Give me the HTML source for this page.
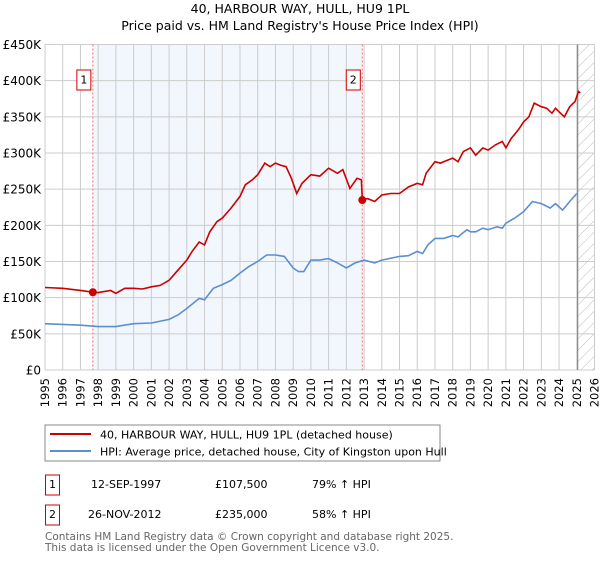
<!DOCTYPE html>
<html><head><meta charset="utf-8"><style>
body{margin:0;background:#fff;font-family:"DejaVu Sans","Liberation Sans",sans-serif;}
svg text{font-family:"DejaVu Sans","Liberation Sans",sans-serif;}
</style></head><body>
<svg width="600" height="560" xmlns="http://www.w3.org/2000/svg">
<defs>
<pattern id="hatch" width="8" height="8" patternUnits="userSpaceOnUse" patternTransform="rotate(45)">
<line x1="0" y1="0" x2="0" y2="8" stroke="#bbb" stroke-width="1"/></pattern>
</defs>
<text x="300" y="13" text-anchor="middle" font-size="12.5">40, HARBOUR WAY, HULL, HU9 1PL</text>
<text x="300" y="30" text-anchor="middle" font-size="12.5">Price paid vs. HM Land Registry's House Price Index (HPI)</text>
<g id="plot"></g>
<rect x="45" y="425" width="395" height="36" fill="#fff" stroke="#888"/>
<line x1="50" y1="434" x2="91" y2="434" stroke="#cc0000" stroke-width="2"/>
<text x="100" y="438.5" font-size="11">40, HARBOUR WAY, HULL, HU9 1PL (detached house)</text>
<line x1="50" y1="451" x2="91" y2="451" stroke="#5b8fd0" stroke-width="2"/>
<text x="100" y="455.5" font-size="11">HPI: Average price, detached house, City of Kingston upon Hull</text>
<rect x="45.5" y="475" width="14" height="20" fill="#fff" stroke="#cc0000"/>
<text x="52.5" y="488" text-anchor="middle" font-size="11">1</text>
<text x="91" y="488" font-size="11">12-SEP-1997</text>
<text x="215" y="488" font-size="11">£107,500</text>
<text x="312" y="488" font-size="11">79% ↑ HPI</text>
<rect x="45.5" y="505" width="14" height="20" fill="#fff" stroke="#cc0000"/>
<text x="52.5" y="518" text-anchor="middle" font-size="11">2</text>
<text x="88" y="518" font-size="11">26-NOV-2012</text>
<text x="215" y="518" font-size="11">£235,000</text>
<text x="312" y="518" font-size="11">58% ↑ HPI</text>
<text x="45" y="540" font-size="10.5" fill="#666">Contains HM Land Registry data © Crown copyright and database right 2025.</text>
<text x="45" y="551" font-size="10.5" fill="#666">This data is licensed under the Open Government Licence v3.0.</text>
</svg>
<script>
const yTicks=[0,50,100,150,200,250,300,350,400,450];
const yTickLabels=["£0","£50K","£100K","£150K","£200K","£250K","£300K","£350K","£400K","£450K"];
const xYears=[1995,1996,1997,1998,1999,2000,2001,2002,2003,2004,2005,2006,2007,2008,2009,2010,2011,2012,2013,2014,2015,2016,2017,2018,2019,2020,2021,2022,2023,2024,2025,2026];
const propYears=[1995,1996,1997,1997.7,1998,1998.7,1999,1999.5,2000,2000.5,2001,2001.5,2002,2002.5,2003,2003.3,2003.7,2004,2004.3,2004.7,2005,2005.5,2006,2006.3,2006.7,2007,2007.4,2007.7,2008,2008.3,2008.6,2008.9,2009.2,2009.5,2010,2010.5,2011,2011.5,2011.8,2012.2,2012.6,2012.85,2012.9,2013.2,2013.6,2014,2014.5,2015,2015.5,2016,2016.3,2016.5,2017,2017.3,2017.7,2018,2018.3,2018.6,2019,2019.3,2019.7,2020,2020.4,2020.8,2021,2021.3,2021.7,2022,2022.3,2022.6,2023,2023.3,2023.6,2023.8,2024,2024.3,2024.6,2024.9,2025.1,2025.2];
const propValues=[114,113,110,107.5,107,110,106,113,113,112,115,117,124,138,152,164,177,173,191,205,210,224,240,256,263,270,286,281,286,283,281,265,244,258,270,268,279,272,277,251,265,263,235,237,233,242,244,244,253,258,256,272,288,286,290,293,288,302,307,297,307,304,311,316,307,320,332,343,350,369,364,362,355,362,357,350,364,371,385,383];
const hpiYears=[1995,1996,1997,1998,1999,2000,2001,2002,2002.5,2003,2003.7,2004,2004.5,2005,2005.5,2006,2006.5,2007,2007.5,2008,2008.5,2009,2009.3,2009.6,2010,2010.5,2011,2011.5,2012,2012.5,2013,2013.6,2014,2015,2015.5,2016,2016.3,2016.6,2017,2017.5,2018,2018.3,2018.8,2019,2019.3,2019.7,2020,2020.5,2020.8,2021,2021.5,2022,2022.5,2023,2023.5,2023.8,2024.2,2024.6,2025];
const hpiValues=[64,63,62,60,60,64,65,70,76,85,99,97,113,118,124,134,143,150,159,159,157,141,136,136,152,152,154,148,141,148,152,148,152,157,158,164,161,173,182,182,186,184,194,191,191,196,194,198,196,203,210,219,233,230,224,230,221,233,244];
const saleYears=[1997.7,2012.9];
const saleValues=[107.5,235];
const saleLabels=["1","2"];

const NS="http://www.w3.org/2000/svg";
const L=45,R=594.5,T=44.5,B=370;
const xs=y=>L+(y-1995)/(2026-1995)*(R-L);
const ys=v=>B-v/450*(B-T);
const g=document.getElementById('plot');
function mk(tag,attrs){const e=document.createElementNS(NS,tag);for(const k in attrs)e.setAttribute(k,attrs[k]);g.appendChild(e);return e;}
let e;
e=mk('rect',{x:xs(saleYears[0]),y:T,width:xs(saleYears[1])-xs(saleYears[0]),height:B-T,fill:'#eef3fc',opacity:0.75});


e=mk('rect',{x:xs(2025.05),y:T,width:R-xs(2025.05),height:B-T,fill:'url(#hatch)'});


xYears.forEach(yr=>{
  e=mk('line',{x1:xs(yr),x2:xs(yr),y1:T,y2:B,stroke:'#ccc','stroke-width':1});
  
  
  e=mk('text',{x:0,y:0,'font-size':11.5,'text-anchor':'end',transform:`translate(${xs(yr)+4},378) rotate(-90)`});
  e.textContent=yr;
  
  
});
yTicks.forEach((v,i)=>{
  e=mk('line',{x1:L,x2:R,y1:ys(v),y2:ys(v),stroke:'#ccc','stroke-width':1});
  
  
  e=mk('text',{x:41,y:ys(v)+4.5,'font-size':12,'text-anchor':'end'});
  e.textContent=yTickLabels[i];
  
  
});
e=mk('line',{x1:xs(2025.05),x2:xs(2025.05),y1:T,y2:B,stroke:'#888','stroke-width':1.2});


saleYears.forEach((yr,i)=>{
  e=mk('line',{x1:xs(yr),x2:xs(yr),y1:T,y2:B,stroke:'#f07070','stroke-width':1,'stroke-dasharray':'2,2'});
  
  
  e=mk('rect',{x:xs(yr)-16,y:70,width:14,height:20,fill:'#fff',stroke:'#cc0000'});
  
  
  e=mk('text',{x:xs(yr)-9,y:83.5,'font-size':11,'text-anchor':'middle'});
  e.textContent=saleLabels[i];
  
  
});
function path(xa,va){return xa.map((x,i)=>(i?'L':'M')+xs(x).toFixed(1)+','+ys(va[i]).toFixed(1)).join('');}
e=mk('path',{d:path(hpiYears,hpiValues),fill:'none',stroke:'#5b8fd0','stroke-width':1.6});


e=mk('path',{d:path(propYears,propValues),fill:'none',stroke:'#cc0000','stroke-width':1.6});


saleYears.forEach((yr,i)=>{
  e=mk('circle',{cx:xs(yr),cy:ys(saleValues[i]),r:4,fill:'#cc0000'});
  
  
});
</script>
</body></html>
